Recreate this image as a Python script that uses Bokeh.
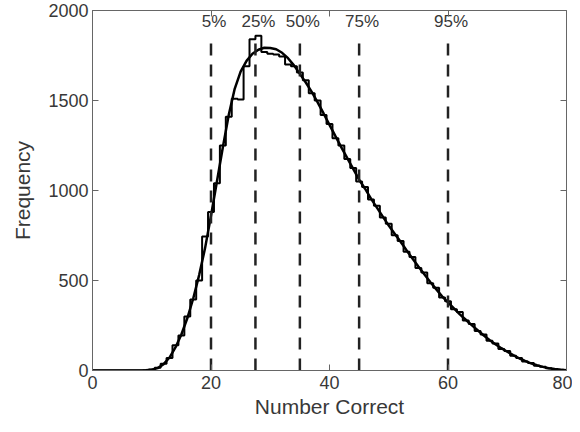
from bokeh.plotting import figure
from bokeh.models import Range1d, FixedTicker, LinearAxis, ColumnDataSource
from bokeh.core.properties import value
from bokeh.embed import file_html
from bokeh.resources import INLINE

# histogram bin centers (Number Correct) and counts
bins = list(range(0, 81))
counts = [0, 0, 0, 0, 0, 0, 0, 0, 0, 2,
          5, 15, 38, 70, 140, 195, 300, 395, 500, 745,
          880, 1040, 1250, 1410, 1510, 1505, 1690, 1840, 1860, 1770,
          1760, 1755, 1745, 1700, 1690, 1655, 1612, 1540, 1500, 1420,
          1370, 1290, 1250, 1175, 1125, 1050, 1020, 950, 915, 850,
          815, 752, 720, 660, 630, 570, 545, 485, 460, 405,
          385, 340, 325, 278, 258, 220, 200, 165, 150, 120,
          108, 82, 70, 50, 42, 27, 21, 12, 8, 4,
          1]

# fitted smooth curve
curve_x = list(range(0, 81))
curve_y = [0, 0, 0, 0, 0, 0, 0, 0, 0, 1,
           4, 13, 35, 72, 128, 200, 290, 400, 530, 680,
           860, 1050, 1240, 1420, 1565, 1660, 1720, 1760, 1782, 1793,
           1792, 1785, 1765, 1735, 1695, 1648, 1600, 1548, 1490, 1428,
           1365, 1302, 1240, 1180, 1120, 1060, 1010, 955, 905, 855,
           805, 760, 715, 668, 622, 578, 535, 492, 452, 412,
           378, 345, 312, 282, 252, 224, 196, 170, 146, 124,
           104, 85, 68, 53, 40, 29, 20, 13, 8, 4,
           2]

# percentile markers
pct_x = [20, 27.5, 35, 45, 60]
pct_labels = ["5%", "25%", "50%", "75%", "95%"]
pct_line_top = 1860
pct_label_y = 1940

x_ticks = [0, 20, 40, 60, 80]
y_ticks = [0, 500, 1000, 1500, 2000]

TXT = "#383838"
AX = "#666666"
FONT = "Liberation Sans"

p = figure(width=572, height=424, output_backend="svg", toolbar_location=None,
           x_range=Range1d(0, 80), y_range=Range1d(0, 2000),
           min_border_left=92, min_border_right=6, min_border_top=10, min_border_bottom=54)
p.background_fill_color = "white"
p.border_fill_color = "white"
p.grid.visible = False
p.outline_line_color = AX
p.outline_line_width = 1

for ax in (p.xaxis[0], p.yaxis[0]):
    ax.axis_line_color = AX
    ax.major_tick_line_color = AX
    ax.major_tick_in = 6
    ax.major_tick_out = 0
    ax.minor_tick_line_color = None
    ax.major_label_text_font = FONT
    ax.major_label_text_font_size = "18px"
    ax.major_label_text_color = TXT
    ax.axis_label_text_font = FONT
    ax.axis_label_text_font_size = "21px"
    ax.axis_label_text_font_style = "normal"
    ax.axis_label_text_color = TXT

p.xaxis.ticker = FixedTicker(ticks=x_ticks)
p.yaxis.ticker = FixedTicker(ticks=y_ticks)
p.xaxis.axis_label = "Number Correct"
p.yaxis.axis_label = "Frequency"
p.xaxis.major_label_standoff = 5
p.yaxis.major_label_standoff = 4
p.xaxis.axis_label_standoff = 3
p.yaxis.axis_label_standoff = 11

# mirrored ticks on top and right (labels not drawn)
for loc, tk in (("above", x_ticks), ("right", y_ticks)):
    a = LinearAxis(ticker=FixedTicker(ticks=tk))
    a.axis_line_color = None
    a.major_tick_line_color = AX
    a.major_tick_in = 6
    a.major_tick_out = 0
    a.minor_tick_line_color = None
    a.major_label_text_font_size = "1px"
    a.major_label_text_color = None
    a.major_label_standoff = 0
    p.add_layout(a, loc)

# histogram outline
p.step(bins, counts, mode="center", line_color="black", line_width=2)
# smooth curve
p.line(curve_x, curve_y, line_color="black", line_width=2.5)

# percentile dashed lines
src = ColumnDataSource(dict(x=pct_x, y0=[0] * len(pct_x), y1=[pct_line_top] * len(pct_x),
                            ly=[pct_label_y] * len(pct_x), lab=pct_labels))
p.segment(x0="x", y0="y0", x1="x", y1="y1", source=src, line_color="#222222",
          line_width=2.5, line_dash="12 9")
p.text(x="x", y="ly", text="lab", source=src, text_align="center", text_baseline="middle",
       x_offset=3, text_font=value(FONT), text_font_size="17px", text_color=TXT)

open("out.html", "w").write(file_html(p, INLINE))
